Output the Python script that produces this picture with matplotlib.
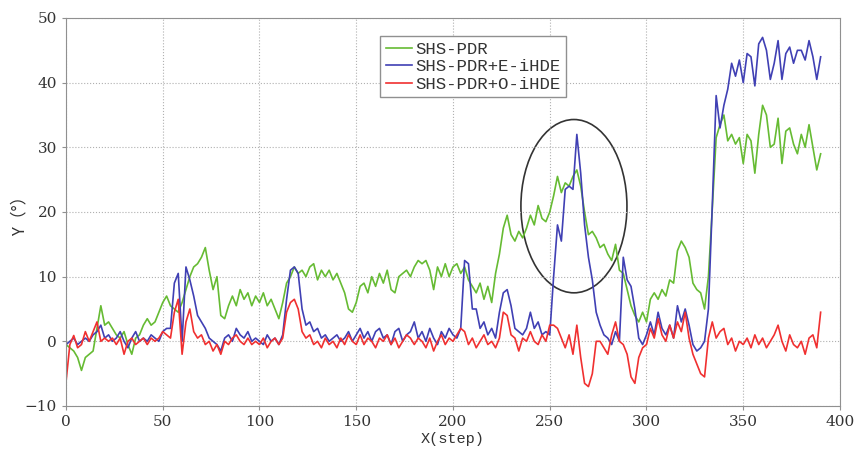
import numpy as np
import matplotlib
matplotlib.use("Agg")
import matplotlib.pyplot as plt
from matplotlib.patches import Ellipse

# step axis, values read every 2 steps
steps = np.arange(0, 392, 2)

shs_pdr = [
    -0.5, -1.0, -1.5, -2.5, -4.5, -2.5, -2.0, -1.5, 2.0, 5.5,
    2.5, 3.0, 2.0, 1.0, 0.5, 1.5, -0.5, -2.0, 0.5, 1.0,
    2.5, 3.5, 2.5, 3.0, 4.5, 6.0, 7.0, 5.5, 5.0, 4.5,
    6.0, 8.0, 10.0, 11.5, 12.0, 13.0, 14.5, 11.0, 8.0, 10.0,
    4.0, 3.5, 5.5, 7.0, 5.5, 8.0, 6.5, 7.5, 5.5, 7.0,
    6.0, 7.5, 5.5, 6.5, 5.0, 3.5, 6.0, 9.0, 10.0, 11.5,
    10.5, 11.0, 10.0, 11.5, 12.0, 9.5, 11.0, 10.0, 11.0, 9.5,
    10.5, 9.0, 7.5, 5.0, 4.5, 6.0, 8.5, 9.0, 7.5, 10.0,
    8.5, 10.5, 9.0, 11.0, 8.0, 7.5, 10.0, 10.5, 11.0, 10.0,
    11.5, 12.5, 12.0, 12.5, 11.0, 8.0, 11.5, 10.0, 12.0, 10.0,
    11.5, 12.0, 10.5, 11.5, 9.5, 8.5, 7.5, 9.0, 6.5, 8.5,
    6.0, 10.5, 13.5, 17.5, 19.5, 16.5, 15.5, 17.0, 16.0, 17.5,
    19.5, 18.0, 21.0, 19.0, 18.5, 20.0, 22.5, 25.5, 23.0, 24.5,
    24.0, 25.5, 26.5, 24.0, 20.0, 16.5, 17.0, 16.0, 14.5, 15.0,
    13.5, 12.5, 15.0, 11.0, 10.5, 8.0, 5.5, 4.0, 3.0, 4.5,
    3.0, 6.5, 7.5, 6.5, 8.0, 7.0, 9.5, 9.0, 14.0, 15.5,
    14.5, 13.0, 9.0, 8.0, 7.5, 5.0, 10.0, 20.5, 31.5, 33.5,
    35.0, 31.0, 32.0, 30.5, 31.5, 27.5, 32.0, 31.0, 26.0, 32.0,
    36.5, 35.0, 30.0, 30.5, 34.5, 27.5, 32.5, 33.0, 30.5, 29.0,
    32.0, 30.0, 33.5, 30.0, 26.5, 29.0,
]

shs_pdr_e = [
    -0.5, 0.0, 0.5, -0.5, 0.0, 0.5, 0.0, 1.0, 1.5, 2.5,
    0.5, 1.0, 0.0, 0.5, 1.5, 0.0, -1.0, 0.5, 1.5, 0.0,
    0.5, 0.0, 1.0, 0.5, 0.0, 1.5, 2.0, 2.0, 9.0, 10.5,
    0.0, 11.5, 9.5, 7.0, 4.0, 3.0, 2.0, 0.5, 0.0, -0.5,
    -1.5, 0.5, 1.0, 0.0, 2.0, 1.0, 0.5, 1.5, 0.0, 0.5,
    0.0, -0.5, 1.0, 0.0, 0.5, -0.5, 1.0, 6.5, 11.0, 11.5,
    10.5, 5.0, 2.5, 3.0, 1.5, 2.0, 0.5, 1.0, 0.0, 0.5,
    1.0, 0.0, 0.5, 1.5, 0.0, 1.0, 2.0, 0.5, 1.5, 0.0,
    1.5, 2.0, 0.5, 1.0, -0.5, 1.5, 2.0, 0.0, 1.0, 1.5,
    3.0, 0.5, 1.5, 0.0, 2.0, 0.5, -0.5, 1.5, 0.5, 2.0,
    1.0, 0.5, 2.0, 12.5, 12.0, 5.0, 5.0, 2.0, 3.0, 1.0,
    2.0, 0.5, 4.5, 7.5, 8.0, 5.5, 2.0, 1.5, 1.0, 2.0,
    4.5, 2.0, 3.0, 1.0, 1.5, 1.0, 10.0, 18.0, 15.5, 23.5,
    24.0, 23.5, 32.0, 26.0, 18.0, 13.0, 9.5, 4.5, 2.5, 1.0,
    0.5, -0.5, 1.5, 0.0, 13.0, 9.5, 8.5, 5.0, 0.5, -0.5,
    1.0, 3.0, 1.0, 4.5, 2.0, 1.0, 2.5, 0.5, 5.5, 3.0,
    5.0, 2.5, -0.5, -1.5, -1.0, 0.0, 5.0, 21.0, 38.0, 33.0,
    36.5, 39.0, 43.0, 41.0, 43.5, 40.0, 44.5, 44.0, 39.5, 46.0,
    47.0, 45.0, 40.5, 43.0, 46.5, 40.5, 44.5, 45.5, 43.0, 45.0,
    45.0, 43.5, 46.5, 44.0, 40.5, 44.0,
]

shs_pdr_o = [
    -6.3, -0.5, 0.9, -1.0, -0.5, 1.5, 0.0, 1.5, 3.0, 0.0,
    0.5, 0.0, 0.5, -0.5, 0.5, -2.0, 0.0, 0.5, -0.5, 0.0,
    0.5, -0.5, 0.5, 0.0, 0.5, 1.5, 1.0, 0.5, 4.5, 6.5,
    -2.0, 3.0, 5.0, 1.5, 0.5, 1.0, -0.5, 0.0, -1.5, -0.5,
    -2.0, 0.0, -0.5, 0.5, 1.0, 0.0, -0.5, 0.5, -0.5, 0.0,
    -0.5, 0.5, -1.0, 0.0, 0.5, -0.5, 0.5, 4.5, 6.0, 6.5,
    5.0, 1.5, 0.5, 1.0, -0.5, 0.0, -1.0, 0.5, -0.5, 0.0,
    -1.0, 0.5, -0.5, 1.0, 0.0, -0.5, 1.0, -0.5, 0.5, 0.0,
    -1.0, 0.5, 0.0, 1.0, -0.5, 0.5, -1.0, 0.0, 1.0, 0.5,
    -0.5, 0.5, 0.0, -1.0, 0.5, -1.5, 0.0, 1.0, -0.5, 0.5,
    0.0, 1.0, 2.0, 1.5, -0.5, 0.5, -1.0, 0.0, 1.0, -0.5,
    0.0, -1.0, 0.5, 4.5, 4.0, 1.0, 0.5, -1.5, 0.5, 0.0,
    1.5, 0.0, -0.5, 1.0, 0.0, 2.5, 2.5, 2.0, 0.5, -1.0,
    1.0, -2.0, 2.5, -2.5, -6.5, -7.0, -5.0, 0.0, 0.0, -1.0,
    -2.0, 1.0, 3.0, 0.0, -0.5, -2.0, -5.5, -6.5, -2.5, -1.0,
    -0.5, 2.0, 0.5, 3.5, 1.0, 0.0, 2.5, 0.5, 3.0, 1.5,
    4.5, 0.5, -2.0, -3.5, -5.0, -5.5, 0.5, 3.0, 0.5, 1.5,
    2.0, -0.5, 0.5, -1.5, 0.0, -0.5, 0.5, -1.0, 1.0, -0.5,
    0.5, -1.0, 0.0, 1.0, 2.5, 0.0, -1.5, 1.0, -0.5, -1.0,
    0.0, -2.0, 0.5, 1.0, -1.0, 4.5,
]

labels = ["SHS-PDR", "SHS-PDR+E-iHDE", "SHS-PDR+O-iHDE"]
colors = ["#66bb33", "#4040b4", "#f03030"]

fig = plt.figure(figsize=(8.56, 4.59), dpi=100)
ax = fig.add_axes([0.0771, 0.1155, 0.9042, 0.8453])

for y, lab, c in zip([shs_pdr, shs_pdr_e, shs_pdr_o], labels, colors):
    ax.plot(steps, y, color=c, lw=1.2, label=lab)

# highlight circle around the peak
ax.add_patch(Ellipse((262.5, 20.9), 54.8, 26.8, fill=False,
                     edgecolor="#333333", lw=1.2))

ax.set_xlim(0, 400)
ax.set_ylim(-10, 50)
ax.set_xticks(np.arange(0, 401, 50))
ax.set_yticks(np.arange(-10, 51, 10))
ax.grid(True, color="#b0b0b0", ls=":", lw=0.8)
for sp in ax.spines.values():
    sp.set_color("#909090")
ax.tick_params(direction="out", length=3, color="#909090",
               labelsize=11, labelcolor="#333333")
for t in ax.get_xticklabels() + ax.get_yticklabels():
    t.set_family("DejaVu Serif")

ax.set_xlabel("X(step)", family="Liberation Mono", fontsize=11,
              color="#333333", labelpad=2)
ax.set_ylabel("Y（°）", family=["Noto Sans CJK SC", "DejaVu Sans"],
              fontsize=12, color="#333333")
ax.yaxis.set_label_coords(-0.049, 0.5)

leg = ax.legend(loc="upper left", bbox_to_anchor=(0.395, 0.975),
                prop={"family": "Liberation Mono", "size": 12.5},
                handlelength=1.5, handletextpad=0.2, borderpad=0.3,
                labelspacing=0.15, fancybox=False, framealpha=1)
leg.get_frame().set_edgecolor("#909090")
for t in leg.get_texts():
    t.set_color("#333333")

plt.savefig("out.png", dpi=100, facecolor="w")
plt.close()
